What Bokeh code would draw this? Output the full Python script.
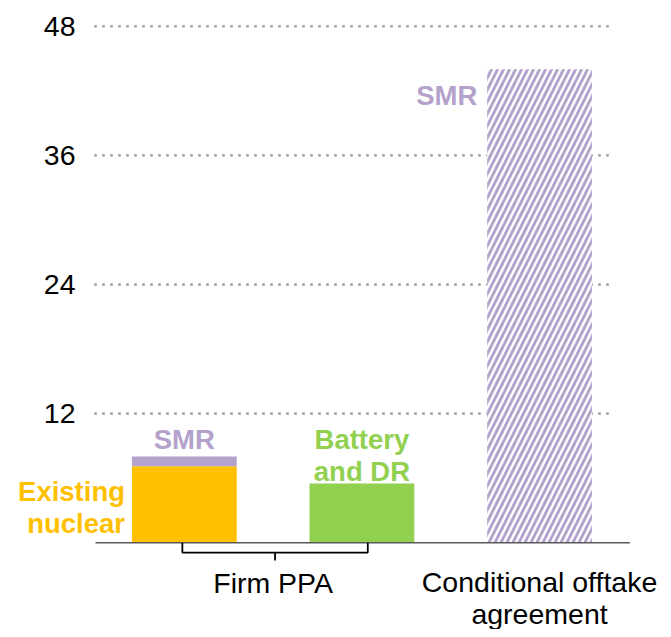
from bokeh.plotting import figure
from bokeh.models import Range1d, Label
from bokeh.core.properties import value
from bokeh.embed import file_html
from bokeh.resources import INLINE

# ---- data ----
bar_x = [0, 1, 2]
existing_nuclear = [7.1, 0, 0]
smr_firm = [0.9, 0, 0]
battery_dr = [0, 5.5, 0]
smr_conditional = [0, 0, 44]
y_ticks = [12, 24, 36, 48]
y_tick_labels = ["12", "24", "36", "48"]
group_x = [0.5, 2, 2]
group_lines = ["Firm PPA", "Conditional offtake", "agreement"]

ORANGE = "#FFC000"
GREEN = "#92D050"
PURPLE = "#B4A2CC"
FONT = "Liberation Sans"

p = figure(width=663, height=629, output_backend="svg", toolbar_location=None,
           x_range=Range1d(-1.035, 2.698), y_range=Range1d(-8.07, 50.39),
           min_border_left=0, min_border_right=0, min_border_top=0, min_border_bottom=0)
p.outline_line_color = None
p.xaxis.visible = False
p.yaxis.visible = False
p.xgrid.visible = False
p.ygrid.visible = False

# y tick labels (value axis)
p.text(x=[-0.6126] * len(y_ticks), y=y_ticks, text=y_tick_labels, text_color="black",
       text_font=value(FONT), text_font_size="28.5px", text_align="right", text_baseline="middle")

# dotted gridlines
p.segment(x0=[-0.5] * len(y_ticks), x1=[2.425] * len(y_ticks), y0=y_ticks, y1=y_ticks,
          line_color="#A6A6A6", line_width=3, line_dash="0 8", line_cap="round")

W = 0.59
p.vbar(x=bar_x, bottom=0, top=existing_nuclear, width=W, fill_color=ORANGE, line_color=None)
top1 = [a + b for a, b in zip(existing_nuclear, smr_firm)]
p.vbar(x=bar_x, bottom=existing_nuclear, top=top1, width=W, fill_color=PURPLE, line_color=None)
p.vbar(x=bar_x, bottom=0, top=battery_dr, width=W, fill_color=GREEN, line_color=None)
p.vbar(x=bar_x, bottom=0, top=smr_conditional, width=W, fill_color="white", line_color=None,
       hatch_pattern="/", hatch_color=PURPLE, hatch_scale=12, hatch_weight=3)

# baseline
p.segment(x0=[-0.5], x1=[2.509], y0=[0], y1=[0], line_color="#595959", line_width=1.5)

# bracket
p.line(x=[-0.011, -0.011, 1.033, 1.033], y=[0, -0.92, -0.92, 0], line_color="black", line_width=1.8)
p.segment(x0=[0.511], x1=[0.511], y0=[-0.92], y1=[-1.65], line_color="black", line_width=1.8)


def labels(xs, ys, texts, color, align, bold=True, size="27.5px"):
    for x, y, t in zip(xs, ys, texts):
        p.add_layout(Label(x=x, y=y, text=t, text_color=color, text_font=FONT,
                           text_font_size=size, level="overlay",
                           text_font_style="bold" if bold else "normal",
                           text_align=align, text_baseline="middle"))


labels([-0.334, -0.334], [4.78, 1.74], ["Existing", "nuclear"], ORANGE, "right")
labels([0.0], [9.55], ["SMR"], PURPLE, "center")
labels([1.0, 1.0], [9.55, 6.61], ["Battery", "and DR"], GREEN, "center")
labels([1.65], [41.6], ["SMR"], PURPLE, "right")

# category labels
labels(group_x, [-3.76, -3.62, -6.6], group_lines, "black", "center", bold=False, size="28.5px")

open("out.html", "w").write(file_html(p, INLINE))
